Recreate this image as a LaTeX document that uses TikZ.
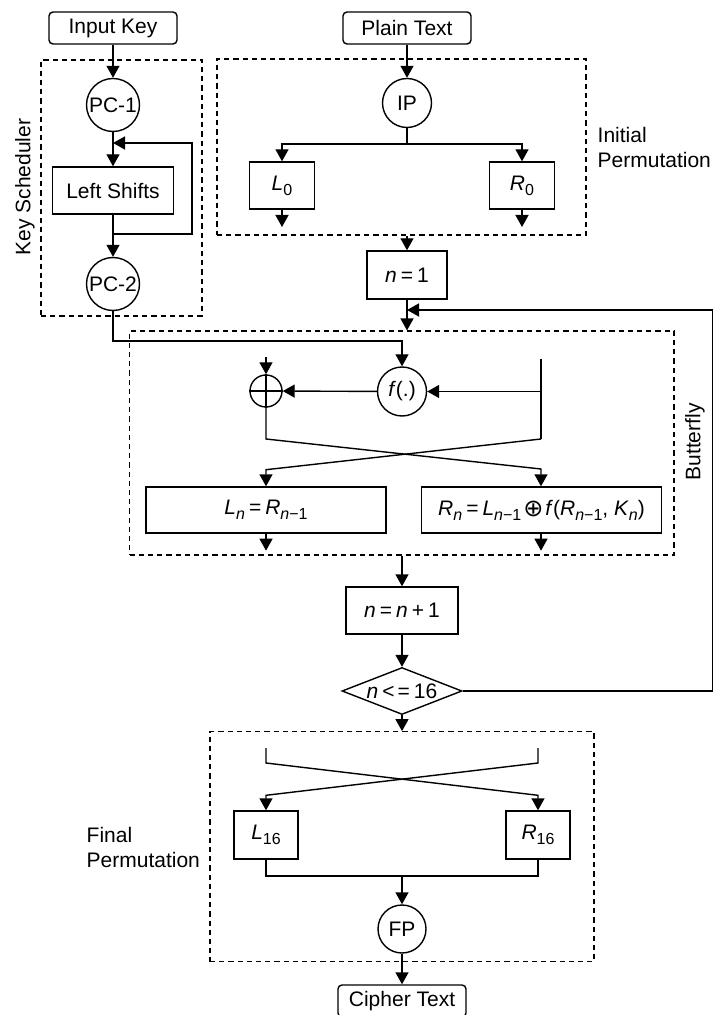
\documentclass[tikz,border=0pt]{standalone}
\usepackage{fontspec}
\setmainfont{Liberation Sans}
\newfontfamily\symfont{DejaVu Sans}
\usetikzlibrary{arrows.meta,shapes.geometric,calc}

% sans-serif "math": italic variables, small lowered subscripts
\newcommand\mvar[1]{\textit{#1}}
\newcommand\msub[1]{\raisebox{-0.45ex}{\fontsize{8}{8}\selectfont #1}}
\newcommand\meq{\kern2pt=\kern2pt}
\newcommand\mxor{\kern1pt\raisebox{-0.1ex}{\fontsize{12}{12}\symfont\char"2295}\kern1pt}

\begin{document}
\begin{tikzpicture}[x=0.5pt,y=-0.5pt,
  font=\fontsize{10.5}{12.5}\selectfont, line width=0.7pt,
  >={Triangle[length=6pt,width=6.5pt]},
  terminal/.style={draw, rounded corners=2pt, minimum width=64pt, minimum height=16pt, inner sep=0pt},
  proc/.style={draw, inner sep=0pt},
  perm/.style={draw, circle, inner sep=0pt},
  frame/.style={draw, line width=0.55pt, dash pattern=on 2.6pt off 2pt, inner sep=0pt},
  flow/.style={->},
  tag/.style={align=left, inner sep=0pt}]
\useasboundingbox (0,0) rectangle (716,1015);

% ---- dashed stage frames ----
\node[frame, minimum width=80.5pt, minimum height=128pt] (ksbox) at (121.5,188) {};
\node[frame, minimum width=184.5pt, minimum height=88pt] (ipbox) at (401.5,147) {};
\node[frame, minimum width=272.25pt, minimum height=112pt] (bfbox) at (401.75,443) {};
\node[frame, minimum width=192pt, minimum height=115pt] (fpbox) at (402,846.7) {};

% ---- stage labels ----
\node[rotate=90] (kslabel) at (25,187) {Key Scheduler};
\node[tag, anchor=west] (iplabel) at (597,147) {Initial\\Permutation};
\node[rotate=90] (bflabel) at (695,442) {Butterfly};
\node[tag, anchor=west] (fplabel) at (86,847) {Final\\Permutation};

% ---- key schedule ----
\node[terminal] (key) at (113,28) {Input Key};
\node[perm, minimum size=26.5pt] (pc1) at (113,105) {PC-1};
\node[proc, minimum width=60.5pt, minimum height=23.5pt] (shift) at (113,190.5) {Left Shifts};
\node[perm, minimum size=26.5pt] (pc2) at (113,284) {PC-2};
\coordinate (tap) at (113,234);
\coordinate (back) at (113,143);

\draw[flow] (key) -- (pc1);
\draw[flow] (pc1) -- (shift);
\draw[flow] (shift) -- (pc2);
\draw[flow] (tap) -- ++(79,0) |- (back);

% ---- initial permutation ----
\node[terminal] (plain) at (407,28) {Plain Text};
\node[perm, minimum size=24.5pt] (ip) at (407,103) {IP};
\node[proc, minimum width=32.5pt, minimum height=23.5pt] (l0) at (282,185.5) {\mvar{L}\msub{0}};
\node[proc, minimum width=32.5pt, minimum height=23.5pt] (r0) at (522,185.5) {\mvar{R}\msub{0}};
\coordinate (split) at (407,144);
\coordinate (l0out) at (282,227);
\coordinate (r0out) at (522,227);

\draw[flow] (plain) -- (ip);
\draw (ip) -- (split);
\draw[flow] (split) -| (l0);
\draw[flow] (split) -| (r0);
\draw[flow] (l0) -- (l0out);
\draw[flow] (r0) -- (r0out);

% ---- round counter ----
\node[proc, minimum width=40pt, minimum height=24pt] (n1) at (407,275) {\mvar{n}\meq1};
\coordinate (rejoin) at (407,310);
\draw[flow] (n1 |- ipbox.south) -- (n1);
\draw[flow] (n1) -- (n1 |- bfbox.north);

% ---- butterfly (one round) ----
\node[perm, minimum size=16pt] (xor) at (266,391) {};
\draw (xor.north) -- (xor.south) (xor.west) -- (xor.east);
\node[perm, minimum size=24.5pt] (f) at (402,391.5) {\mvar{f}(.)};
\node[proc, minimum width=120pt, minimum height=23pt] (ln) at (266,510)
  {\mvar{L}\msub{\mvar{n}}\meq\mvar{R}\msub{\mvar{n}−1}};
\node[proc, minimum width=120pt, minimum height=23pt] (rn) at (541.5,510)
  {\mvar{R}\msub{\mvar{n}}\meq\mvar{L}\msub{\mvar{n}−1}\mxor\mvar{f}(\mvar{R}\msub{\mvar{n}−1}, \mvar{K}\msub{\mvar{n}})};
\coordinate (xin) at (266,357);
\coordinate (rtop) at (541,359);
\coordinate (rbot) at (541,439);
\coordinate (keybend) at (113,341);

\draw[flow] (pc2) -- (keybend) -| (f);
\draw[flow] (xin) -- (xor);
\draw[flow] (f) -- (xor);
\draw (rtop) -- (rbot);
\draw[flow] (rtop |- f) -- (f);
\draw[flow] (xor) -- ++(0,48) -- ($(rbot)+(0,30)$) -- (rbot |- rn.north);
\draw[flow] (rbot) -- ($(xor.south)+(0,62)$) -- (ln);
\draw[flow] (ln.south) -- ++(0,17);
\draw[flow] (ln.south -| rbot) -- ++(0,17);

% ---- next round / loop test ----
\node[proc, minimum width=56pt, minimum height=23.5pt] (inc) at (402,610.5) {\mvar{n}\meq\mvar{n}\kern2pt+\kern2pt1};
\node[draw, diamond, inner sep=0pt, aspect=2.5, minimum width=60pt, minimum height=23.5pt] (test) at (402,691)
  {\mvar{n}\kern2pt<\kern1.5pt=\kern2pt16};

\draw[flow] (inc |- bfbox.south) -- (inc);
\draw[flow] (inc) -- (test);
\draw[flow] (test.east) -- ++(250,0) |- (rejoin);
\draw[flow] (test) -- (test |- fpbox.north);

% ---- final permutation ----
\node[proc, minimum width=32pt, minimum height=24pt] (l16) at (266,835) {\mvar{L}\msub{16}};
\node[proc, minimum width=32pt, minimum height=24pt] (r16) at (538,835) {\mvar{R}\msub{16}};
\node[perm, minimum size=24pt] (fp) at (402,929) {FP};
\node[terminal] (cipher) at (402,1001) {Cipher Text};
\coordinate (cl) at (266,748);
\coordinate (cr) at (538,748);
\coordinate (join) at (402,876);

\draw[flow] (cl) -- ++(0,15) -- ($(r16.north)+(0,-15)$) -- (r16);
\draw[flow] (cr) -- ++(0,15) -- ($(l16.north)+(0,-15)$) -- (l16);
\draw (l16) |- (join) -| (r16);
\draw[flow] (join) -- (fp);
\draw[flow] (fp) -- (cipher);
\end{tikzpicture}
\end{document}
